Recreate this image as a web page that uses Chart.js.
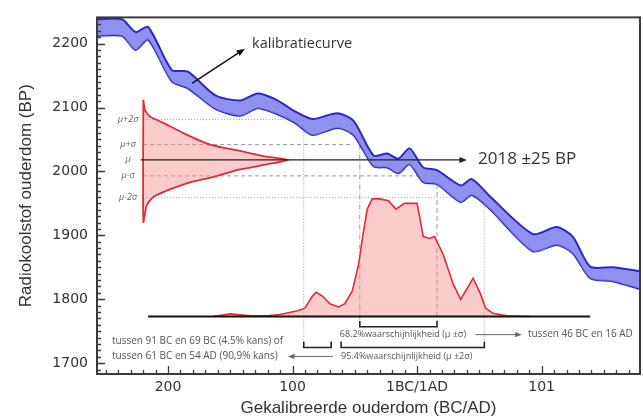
<!DOCTYPE html>
<html><head><meta charset="utf-8">
<script src="https://cdn.jsdelivr.net/npm/chart.js@4"></script>
<style>html,body{margin:0;padding:0;background:#fff;overflow:hidden}canvas{display:block}</style>
</head><body>
<canvas id="c" width="643" height="417"></canvas>
<script>
// ---- data ----
const xTickValues = [-200, -100, 0, 100];
const xTickLabels = ['200', '100', '1BC/1AD', '101'];
const yTickValues = [1700, 1800, 1900, 2000, 2100, 2200];

// calibration curve (year: BC negative, AD positive)
const calX     = [-257, -237, -226, -216, -197, -184, -162, -142, -128, -114, -98, -84, -64, -51, -35, -24, -15, -6, 5, 16, 35, 44, 59, 93, 112, 125, 139, 157, 179];
const calUpper = [2238, 2238, 2218, 2226, 2159, 2156, 2119, 2111, 2122, 2113, 2094, 2082, 2091, 2079, 2025, 2028, 2020, 2036, 2006, 2002, 1978, 1988, 1960, 1902, 1913, 1898, 1851, 1850, 1844];
const calLower = [2212, 2212, 2190, 2206, 2141, 2130, 2098, 2087, 2099, 2091, 2076, 2057, 2068, 2057, 2008, 2006, 1997, 2011, 1983, 1980, 1952, 1963, 1940, 1875, 1885, 1872, 1833, 1828, 1816];

// measured radiocarbon age distribution (drawn sideways)
const gaussYear = [-219.8, -218.5, -214.5, -203.8, -187.7, -166.3, -142.2, -120.7, -103.4, -120.7, -142.2, -162.2, -182.3, -201.0, -211.8, -217.1, -219.8, -219.8];
const gaussBP   = [2112, 2096, 2086, 2076, 2060, 2042, 2032, 2023, 2018, 2011, 2003, 1992, 1983, 1970, 1960, 1947, 1921, 2112];

// calibrated probability distribution
const probX = [-164, -150, -134, -120, -110, -96, -90, -84, -81, -76, -70, -63, -58, -52, -47, -43, -40, -36, -30, -23, -17, -10, 0, 5, 10, 14, 21, 29, 35, 40, 45, 51, 55, 61, 72, 91];
const probY = [1773, 1777, 1774, 1774, 1776, 1782, 1786, 1805, 1811, 1805, 1793, 1788, 1793, 1813, 1854, 1906, 1941, 1957, 1957, 1954, 1941, 1950, 1950, 1898, 1895, 1898, 1870, 1824, 1800, 1816, 1833, 1808, 1786, 1778, 1774, 1773];
const probBase = 1773;

const sigmaLabels = ['μ+2σ', 'μ+σ', 'μ', 'μ-σ', 'μ-2σ'];
const sigmaLevels = [2081, 2042, 2018, 1993, 1959];
const sigmaLineEnd = [-86, -51, 40, 16, 54];

const range68 = [-46, 16];
const range95a = [-91, -69];
const range95b = [-61, 54];

// ---- drawing helpers ----
function arrow(ctx, x1, y1, x2, y2, head, color, lw) {
  ctx.save();
  ctx.strokeStyle = color; ctx.fillStyle = color; ctx.lineWidth = lw; ctx.setLineDash([]);
  const a = Math.atan2(y2 - y1, x2 - x1);
  ctx.beginPath(); ctx.moveTo(x1, y1);
  ctx.lineTo(x2 - Math.cos(a) * head * 0.7, y2 - Math.sin(a) * head * 0.7); ctx.stroke();
  ctx.beginPath(); ctx.moveTo(x2, y2);
  ctx.lineTo(x2 - head * Math.cos(a - 0.38), y2 - head * Math.sin(a - 0.38));
  ctx.lineTo(x2 - head * Math.cos(a + 0.38), y2 - head * Math.sin(a + 0.38));
  ctx.closePath(); ctx.fill();
  ctx.restore();
}
function line(ctx, x1, y1, x2, y2, color, lw, dash) {
  ctx.save(); ctx.strokeStyle = color; ctx.lineWidth = lw; ctx.setLineDash(dash || []);
  ctx.beginPath(); ctx.moveTo(x1, y1); ctx.lineTo(x2, y2); ctx.stroke(); ctx.restore();
}
function text(ctx, s, x, y, font, color, align) {
  ctx.save(); ctx.font = font; ctx.fillStyle = color; ctx.textAlign = align || 'left';
  ctx.textBaseline = 'middle'; ctx.fillText(s, x, y); ctx.restore();
}

const annot = {
  id: 'annot',
  beforeDatasetsDraw(chart) {
    const ctx = chart.ctx, X = v => chart.scales.x.getPixelForValue(v), Y = v => chart.scales.y.getPixelForValue(v);
    const x0 = X(-220);
    const gray = '#9a9a9a';
    // sigma level lines (except mu)
    line(ctx, x0, Y(sigmaLevels[0]), X(sigmaLineEnd[0]), Y(sigmaLevels[0]), gray, 1, [1, 2]);
    line(ctx, x0, Y(sigmaLevels[1]), X(sigmaLineEnd[1]), Y(sigmaLevels[1]), gray, 1, [4, 3]);
    line(ctx, x0, Y(sigmaLevels[3]), X(sigmaLineEnd[3]), Y(sigmaLevels[3]), gray, 1, [4, 3]);
    line(ctx, x0, Y(sigmaLevels[4]), X(sigmaLineEnd[4]), Y(sigmaLevels[4]), '#8fb4c4', 1, [1, 2]);
    // verticals
    line(ctx, X(range95a[0]), Y(sigmaLevels[0]), X(range95a[0]), Y(1734), gray, 1, [1, 2]);
    line(ctx, X(range68[0]), Y(sigmaLevels[1]), X(range68[0]), Y(1766), gray, 1, [5, 2, 1, 2]);
    line(ctx, X(range68[1]), Y(sigmaLevels[3]), X(range68[1]), Y(1766), gray, 1, [5, 3]);
    line(ctx, X(range95b[1]), Y(sigmaLevels[4]), X(range95b[1]), Y(1734), gray, 1, [1, 2]);
  },
  afterDatasetsDraw(chart) {
    const ctx = chart.ctx, a = chart.chartArea;
    const X = v => chart.scales.x.getPixelForValue(v), Y = v => chart.scales.y.getPixelForValue(v);
    // baseline of probability distribution
    line(ctx, X(-216), Y(probBase), X(139), Y(probBase), '#111', 2);
    // mu arrow
    arrow(ctx, X(-222), Y(sigmaLevels[2]), X(40), Y(sigmaLevels[2]), 8, '#222', 1.2);
    text(ctx, '2018 ±25 BP', X(49), Y(2018.6), '17px "Open Sans"', '#333');
    // sigma labels
    sigmaLabels.forEach((s, i) => text(ctx, s, X(-232), Y(sigmaLevels[i]), 'italic 9px "Open Sans"', '#666', 'center'));
    // calibration curve label
    arrow(ctx, X(-180.7), Y(2137.8), X(-138.2), Y(2192), 9, '#111', 1.5);
    text(ctx, 'kalibratiecurve', X(-132.5), Y(2199.7), '14.5px "Open Sans"', '#333');
    // brackets
    const bk = '#222';
    const bracket = (r, yb, yt) => {
      ctx.save(); ctx.strokeStyle = bk; ctx.lineWidth = 1.6; ctx.setLineDash([]);
      ctx.beginPath(); ctx.moveTo(X(r[0]), Y(yt)); ctx.lineTo(X(r[0]), Y(yb)); ctx.lineTo(X(r[1]), Y(yb)); ctx.lineTo(X(r[1]), Y(yt)); ctx.stroke(); ctx.restore();
    };
    bracket(range68, 1757, 1766);
    bracket(range95a, 1724.5, 1734);
    bracket(range95b, 1724.5, 1734);
    // texts of ranges
    text(ctx, '68.2%waarschijnlijkheid (μ ±σ)', X(-62), Y(1744.6), '9px "Open Sans"', '#555');
    arrow(ctx, X(47), Y(1744.6), X(84), Y(1744.6), 7, '#666', 1);
    text(ctx, 'tussen 46 BC en 16 AD', X(89), Y(1744.6), '10px "Open Sans"', '#555');
    text(ctx, '95.4%waarschijnlijkheid (μ ±2σ)', X(-61), Y(1710.5), '9px "Open Sans"', '#555');
    arrow(ctx, X(-67.5), Y(1710.5), X(-103.6), Y(1710.5), 7, '#666', 1);
    text(ctx, 'tussen 91 BC en 69 BC (4.5% kans) of', X(-245), Y(1735), '10px "Open Sans"', '#555');
    text(ctx, 'tussen 61 BC en 54 AD (90,9% kans)', X(-245), Y(1710.5), '10px "Open Sans"', '#555');
    // frame
    ctx.save(); ctx.strokeStyle = '#3a3a3a'; ctx.lineWidth = 2; ctx.setLineDash([]);
    ctx.strokeRect(a.left, a.top, a.right - a.left, a.bottom - a.top);
    // inward ticks
    ctx.lineWidth = 1.3; ctx.beginPath();
    for (let v = -250; v <= 170; v += 10) {
      const px = Math.round(X(v)) + 0.5, len = (v % 100 === 0) ? 8 : 4;
      ctx.moveTo(px, a.bottom); ctx.lineTo(px, a.bottom - len);
    }
    for (let v = 1690; v <= 2240; v += 10) {
      const py = Math.round(Y(v)) + 0.5, len = (v % 100 === 0) ? 8 : 4;
      ctx.moveTo(a.left, py); ctx.lineTo(a.left + len, py);
    }
    ctx.stroke(); ctx.restore();
  }
};

const bandFill = 'rgba(125,125,236,0.85)';
const bandEdge = '#2828c8';
const redLine = '#e42a36';
const pinkFill = 'rgba(243,140,140,0.45)';

new Chart(document.getElementById('c').getContext('2d'), {
  type: 'line',
  data: {
    datasets: [
      { data: calX.map((x, i) => ({ x, y: calUpper[i] })), borderColor: bandEdge, borderWidth: 2, pointRadius: 0, fill: '+1', backgroundColor: bandFill, tension: 0.25 },
      { data: calX.map((x, i) => ({ x, y: calLower[i] })), borderColor: bandEdge, borderWidth: 2, pointRadius: 0, fill: false, tension: 0.25 },
      { data: gaussYear.map((x, i) => ({ x, y: gaussBP[i] })), borderColor: redLine, borderWidth: 1.8, pointRadius: 0, fill: 'shape', backgroundColor: pinkFill, tension: 0.2 },
      { data: probX.map((x, i) => ({ x, y: probY[i] })), borderColor: redLine, borderWidth: 1.6, pointRadius: 0, fill: { value: probBase }, backgroundColor: pinkFill, tension: 0 }
    ]
  },
  options: {
    responsive: false, animation: false, devicePixelRatio: 1,
    layout: { padding: { left: 0, right: 3, top: 13, bottom: 0 } },
    plugins: { legend: { display: false }, tooltip: { enabled: false } },
    scales: {
      x: {
        type: 'linear', min: -257, max: 179,
        grid: { display: false, drawTicks: false }, border: { display: false },
        afterBuildTicks: s => { s.ticks = xTickValues.map(v => ({ value: v })); },
        ticks: { autoSkip: false, maxRotation: 0, padding: 5, color: '#333', font: { family: 'DejaVu Sans', size: 14 },
                 callback: v => xTickLabels[xTickValues.indexOf(v)] },
        title: { display: true, text: 'Gekalibreerde ouderdom (BC/AD)', color: '#333', font: { family: 'Liberation Sans', size: 17, lineHeight: 1 }, padding: { top: 0, bottom: 0 } },
        afterFit: s => { s.height = 43; }
      },
      y: {
        type: 'linear', min: 1683, max: 2241,
        grid: { display: false, drawTicks: false }, border: { display: false },
        afterBuildTicks: s => { s.ticks = yTickValues.map(v => ({ value: v })); },
        ticks: { padding: 9, color: '#333', font: { family: 'DejaVu Sans', size: 14 }, callback: v => String(v) },
        title: { display: true, text: 'Radiokoolstof ouderdom (BP)', color: '#333', font: { family: 'Liberation Sans', size: 17, lineHeight: 1 }, padding: { top: 18, bottom: 0 } },
        afterFit: s => { s.width = 97; }
      }
    }
  },
  plugins: [annot]
});
</script>
</body></html>
